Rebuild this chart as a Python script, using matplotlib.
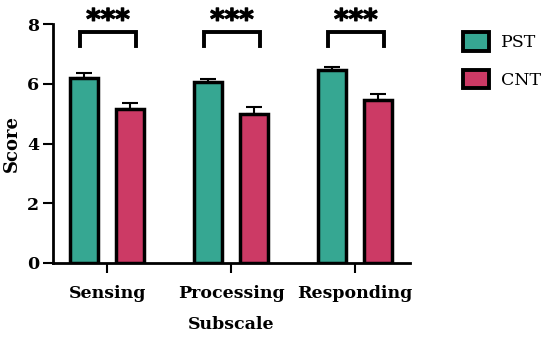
import numpy as np
import matplotlib.pyplot as plt
import matplotlib.patheffects as pe
from matplotlib.patches import Patch

subscales = ["Sensing", "Processing", "Responding"]
pst_mean = [6.2, 6.05, 6.45]
pst_err = [0.15, 0.12, 0.12]
cnt_mean = [5.15, 5.0, 5.45]
cnt_err = [0.2, 0.22, 0.22]
sig_labels = ["***", "***", "***"]

pst_color = "#36a792"
cnt_color = "#cc3a65"

plt.rcParams["font.family"] = "DejaVu Serif"

fig = plt.figure(figsize=(5.5, 3.4), dpi=100)
ax = fig.add_axes([0.096, 0.2265, 0.649, 0.7025])

x = np.arange(len(subscales))
off = 0.185
w = 0.225

ax.bar(x - off, pst_mean, w, color=pst_color, edgecolor="black", linewidth=2.5, zorder=2)
ax.bar(x + off, cnt_mean, w, color=cnt_color, edgecolor="black", linewidth=2.5, zorder=2)
ax.errorbar(x - off, pst_mean, yerr=[np.zeros(3), pst_err], fmt="none",
            ecolor="black", elinewidth=1.5, capsize=6, capthick=1.5, zorder=1)
ax.errorbar(x + off, cnt_mean, yerr=[np.zeros(3), cnt_err], fmt="none",
            ecolor="black", elinewidth=1.5, capsize=6, capthick=1.5, zorder=1)

# significance brackets
for i, s in enumerate(sig_labels):
    x0, x1 = i - 0.22, i + 0.23
    ax.plot([x0, x0, x1, x1], [7.27, 7.72, 7.72, 7.27], color="black", lw=2.8,
            clip_on=False, solid_joinstyle="miter")
    ax.text((x0 + x1) / 2, 8.12, s, ha="center", va="center", fontsize=20,
            fontweight="bold", family="DejaVu Sans", clip_on=False,
            path_effects=[pe.withStroke(linewidth=0.9, foreground="black")])

ax.set_xlim(-0.44, 2.44)
ax.set_ylim(0, 8)
ax.set_yticks([0, 2, 4, 6, 8])
ax.set_xticks(x)
ax.set_xticklabels(subscales)
for lab in ax.get_xticklabels() + ax.get_yticklabels():
    lab.set_fontweight("bold")
    lab.set_fontsize(12.5)
ax.tick_params(axis="both", width=1.5, length=7)
ax.tick_params(axis="x", pad=9)
ax.tick_params(axis="y", pad=3)

for sp in ["top", "right"]:
    ax.spines[sp].set_visible(False)
for sp in ["left", "bottom"]:
    ax.spines[sp].set_linewidth(2)

ax.set_ylabel("Score", fontsize=13, fontweight="bold", labelpad=4)
ax.set_xlabel("Subscale", fontsize=12.5, fontweight="bold", labelpad=10)

handles = [Patch(facecolor=pst_color, edgecolor="black", linewidth=2.8),
           Patch(facecolor=cnt_color, edgecolor="black", linewidth=2.8)]
fig.legend(handles, ["PST", "CNT"], loc="upper left", bbox_to_anchor=(0.842, 0.905),
           frameon=False, fontsize=12.5, handlelength=1.5, handleheight=1.25,
           labelspacing=1.05, handletextpad=0.7, borderpad=0, borderaxespad=0)

fig.savefig("out.png", dpi=100)
